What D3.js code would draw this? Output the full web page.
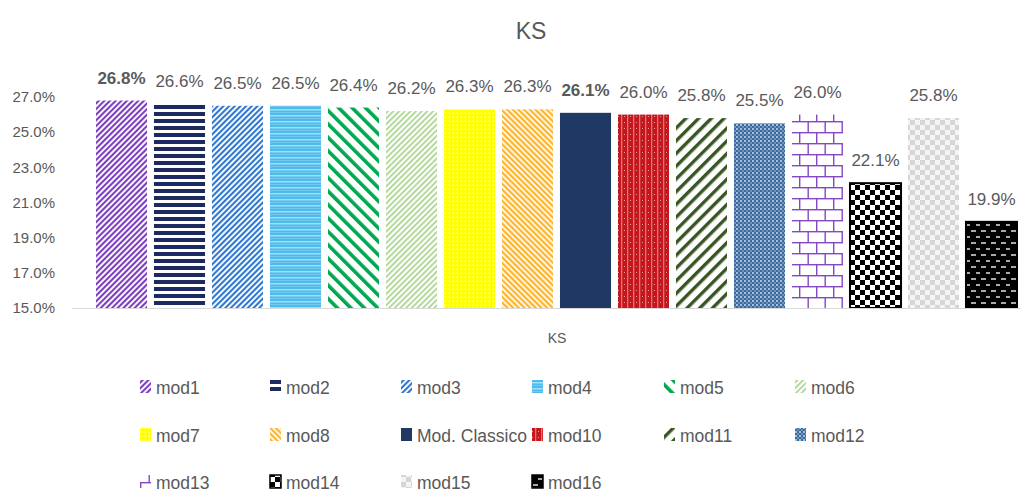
<!DOCTYPE html>
<html>
<head>
<meta charset="utf-8">
<script src="https://cdn.jsdelivr.net/npm/d3@7"></script>
<style>
  html, body { margin: 0; padding: 0; background: #fff; }
  svg { display: block; }
  text { font-family: "Liberation Sans", Arial, sans-serif; fill: #595959; }
</style>
</head>
<body>
<svg id="chart" width="1027" height="494"></svg>
<script>
// KS score per model
const categories = ["mod1", "mod2", "mod3", "mod4", "mod5", "mod6", "mod7", "mod8",
  "Mod. Classico", "mod10", "mod11", "mod12", "mod13", "mod14", "mod15", "mod16"];
const ksValues = [26.8, 26.6, 26.5, 26.5, 26.4, 26.2, 26.3, 26.3,
  26.1, 26.0, 25.8, 25.5, 26.0, 22.1, 25.8, 19.9];
const boldLabels = ["mod1", "Mod. Classico"];
const yTicks = [15, 17, 19, 21, 23, 25, 27];
const chartTitle = "KS";
const axisTitle = "KS";

const svg = d3.select("#chart");
const defs = svg.append("defs");

// ---- fill patterns, one per model ----
function stripes(id, color, period, width, angle) {
  const p = defs.append("pattern").attr("id", id)
    .attr("patternUnits", "userSpaceOnUse")
    .attr("width", period).attr("height", period)
    .attr("patternTransform", `rotate(${angle})`);
  p.append("rect").attr("width", period).attr("height", period).attr("fill", "#fff");
  p.append("rect").attr("width", width).attr("height", period).attr("fill", color);
}
function pattern(id, w, h, bg, draw) {
  const p = defs.append("pattern").attr("id", id)
    .attr("patternUnits", "userSpaceOnUse")
    .attr("width", w).attr("height", h);
  p.append("rect").attr("width", w).attr("height", h).attr("fill", bg);
  draw(p);
}

stripes("p0", "#7b3fc0", 4, 2.1, 45);          // mod1
pattern("p1", 7, 7, "#fff", p =>               // mod2
  p.append("rect").attr("y", 0).attr("width", 7).attr("height", 4).attr("fill", "#1d2a62"));
stripes("p2", "#2f78d2", 4, 2.1, 45);          // mod3
pattern("p3", 6, 6, "#4bbcec", p => {          // mod4
  p.append("rect").attr("y", 1).attr("width", 6).attr("height", 1.5).attr("fill", "#a6dcf6");
  p.append("rect").attr("y", 4).attr("width", 6).attr("height", 0.8).attr("fill", "#7ccdf1");
});
stripes("p4", "#00a84f", 9.5, 3.6, -45);       // mod5
stripes("p5", "#a8d48c", 4, 1.7, 45);          // mod6
pattern("p6", 4, 4, "#ffff00", p => {          // mod7
  p.append("rect").attr("x", 0.5).attr("y", 0.5).attr("width", 1.6).attr("height", 1.6).attr("fill", "#ffffa8");
});
stripes("p7", "#ffb52a", 4, 2.3, -45);         // mod8
pattern("p8", 4, 4, "#1f3864", () => {});      // Mod. Classico
pattern("p9", 6, 6, "#c4161c", p => {          // mod10
  p.append("rect").attr("x", 3).attr("width", 1.3).attr("height", 6).attr("fill", "#e57373");
  p.append("rect").attr("x", 0).attr("y", 2).attr("width", 1).attr("height", 1).attr("fill", "#ec9a9a");
});
stripes("p10", "#375623", 9, 3.4, 45);         // mod11
pattern("p11", 4, 4, "#3b6a9e", p => {         // mod12
  p.append("rect").attr("x", 0).attr("y", 0).attr("width", 2).attr("height", 2).attr("fill", "#a7bfdb");
  p.append("rect").attr("x", 2).attr("y", 2).attr("width", 2).attr("height", 2).attr("fill", "#6f92bb");
});
pattern("p12", 17, 22, "#fff", p => {          // mod13 bricks
  const c = "#8647c4";
  p.append("rect").attr("y", 0).attr("width", 17).attr("height", 1.4).attr("fill", c);
  p.append("rect").attr("y", 11).attr("width", 17).attr("height", 1.4).attr("fill", c);
  p.append("rect").attr("x", 0).attr("y", 0).attr("width", 1.4).attr("height", 11).attr("fill", c);
  p.append("rect").attr("x", 8.5).attr("y", 11).attr("width", 1.4).attr("height", 11).attr("fill", c);
});
pattern("p13", 10, 10, "#fff", p => {          // mod14 checker
  p.append("rect").attr("width", 5).attr("height", 5).attr("fill", "#000");
  p.append("rect").attr("x", 5).attr("y", 5).attr("width", 5).attr("height", 5).attr("fill", "#000");
});
pattern("p14", 10, 10, "#f4f4f4", p => {       // mod15 light checker
  p.append("rect").attr("width", 5).attr("height", 5).attr("fill", "#d6d6d6");
  p.append("rect").attr("x", 5).attr("y", 5).attr("width", 5).attr("height", 5).attr("fill", "#d6d6d6");
});
pattern("p15", 10, 12, "#000", p => {          // mod16 dashes
  p.append("rect").attr("x", 1).attr("y", 2).attr("width", 5).attr("height", 2).attr("fill", "#a9a9a9");
  p.append("rect").attr("x", 6).attr("y", 8).attr("width", 5).attr("height", 2).attr("fill", "#a9a9a9");
});

const outlined = { "mod14": true, "mod16": true };

// ---- scales ----
const x = d3.scaleBand().domain(categories).range([92.5, 1020.5]).paddingInner(0.12).paddingOuter(0.06);
const y = d3.scaleLinear().domain([15, 27]).range([308, 97]);

// title
svg.append("text").attr("x", 531).attr("y", 39).attr("text-anchor", "middle")
  .style("font-size", "23px").text(chartTitle);

// y axis labels
const yAxis = d3.axisLeft(y).tickValues(yTicks).tickSize(0).tickPadding(0)
  .tickFormat(d => d.toFixed(1) + "%");
const yg = svg.append("g").attr("transform", "translate(55,0)").call(yAxis);
yg.select(".domain").remove();
yg.selectAll("text").style("font-size", "15px").attr("fill", "#595959")
  .style("font-family", "'Liberation Sans', Arial, sans-serif");

// bars
const fillFor = d => "url(#p" + categories.indexOf(d) + ")";
svg.append("g").selectAll("rect").data(categories).join("rect")
  .attr("x", d => x(d))
  .attr("width", x.bandwidth())
  .attr("y", (d, i) => y(ksValues[i]))
  .attr("height", (d, i) => y(15) - y(ksValues[i]))
  .attr("fill", fillFor)
  .attr("stroke", d => outlined[d] ? "#000" : "none")
  .attr("stroke-width", 2);

// category axis line
const xAxis = d3.axisBottom(x).tickSize(0).tickFormat("");
const xg = svg.append("g").attr("transform", "translate(0,308.5)").call(xAxis);
xg.select(".domain").attr("stroke", "#d9d9d9").attr("d", "M72,0H1020");

// value labels
svg.append("g").selectAll("text").data(categories).join("text")
  .attr("x", d => x(d) + x.bandwidth() / 2)
  .attr("y", (d, i) => y(ksValues[i]) - 17)
  .attr("text-anchor", "middle")
  .style("font-size", "17px")
  .style("font-weight", d => boldLabels.includes(d) ? "bold" : "normal")
  .attr("fill", d => boldLabels.includes(d) ? "#404040" : "#595959")
  .text((d, i) => ksValues[i].toFixed(1) + "%");

// axis title
svg.append("text").attr("x", 557).attr("y", 343).attr("text-anchor", "middle")
  .style("font-size", "14px").text(axisTitle);

// legend
const colX = [140, 270, 401, 532, 664, 795];
const rowY = [387, 435, 482];
const lg = svg.append("g").selectAll("g").data(categories).join("g")
  .attr("transform", (d, i) => `translate(${colX[i % 6]},${rowY[Math.floor(i / 6)]})`);
lg.append("rect").attr("x", 0).attr("y", -7).attr("width", 11).attr("height", 13)
  .attr("fill", fillFor)
  .attr("stroke", d => outlined[d] ? "#000" : "none").attr("stroke-width", 1.5);
lg.append("text").attr("x", 16).attr("y", 6.5).style("font-size", "17.5px").text(d => d);
</script>
</body>
</html>
